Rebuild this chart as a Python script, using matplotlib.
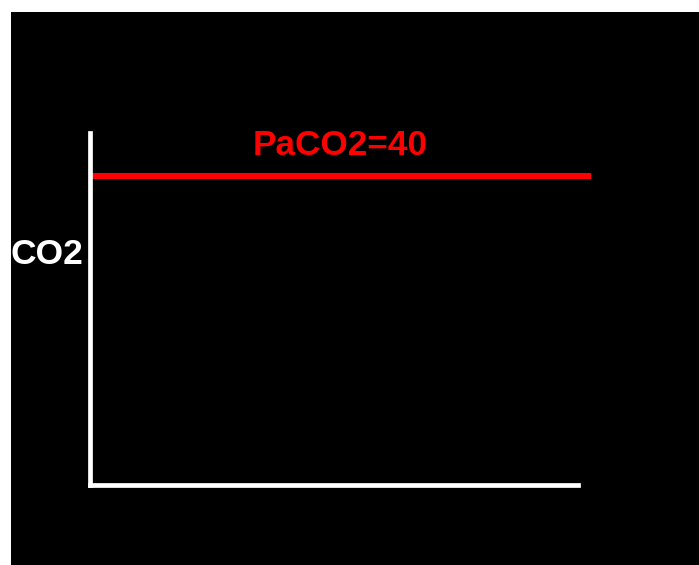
import matplotlib
matplotlib.use("Agg")
import matplotlib.pyplot as plt
from matplotlib.patches import Rectangle

# Data
paco2_value = 40
y_label = "CO2"
line_label = "PaCO2=40"
y_max = 45.6
x_start, x_end = 0.004, 1.027

W, H = 699, 565
fig = plt.figure(figsize=(W / 100, H / 100), dpi=100, facecolor="white")
fig.patches.append(Rectangle((11 / W, 0), 1, (H - 12) / H, transform=fig.transFigure,
                             facecolor="black", edgecolor="none", zorder=-10))

ax = fig.add_axes([90 / W, (H - 484.5) / H, 488 / W, (484.5 - 133) / H])
ax.set_zorder(5)
ax.set_facecolor("none")
ax.set_xlim(0, 1)
ax.set_ylim(0, y_max)
for s in ["top", "right"]:
    ax.spines[s].set_visible(False)
for s in ["left", "bottom"]:
    ax.spines[s].set_color("white")
    ax.spines[s].set_linewidth(3.4)
ax.spines["left"].set_capstyle("projecting")
ax.set_xticks([])
ax.set_yticks([])

ax.plot([x_start, x_end], [paco2_value, paco2_value], color="#ff0000", lw=4.4,
        solid_capstyle="butt", clip_on=False)
ax.text(0.512, paco2_value + 4.0, line_label, color="#ff0000", fontsize=25.3,
        fontweight="bold", ha="center", va="center", family="Liberation Sans")

fig.text(83 / W, 1 - 254 / H, y_label, color="white", fontsize=25.5, fontweight="bold",
         ha="right", va="center", family="Liberation Sans", zorder=6)

fig.savefig("out.png", dpi=100, facecolor="white")
